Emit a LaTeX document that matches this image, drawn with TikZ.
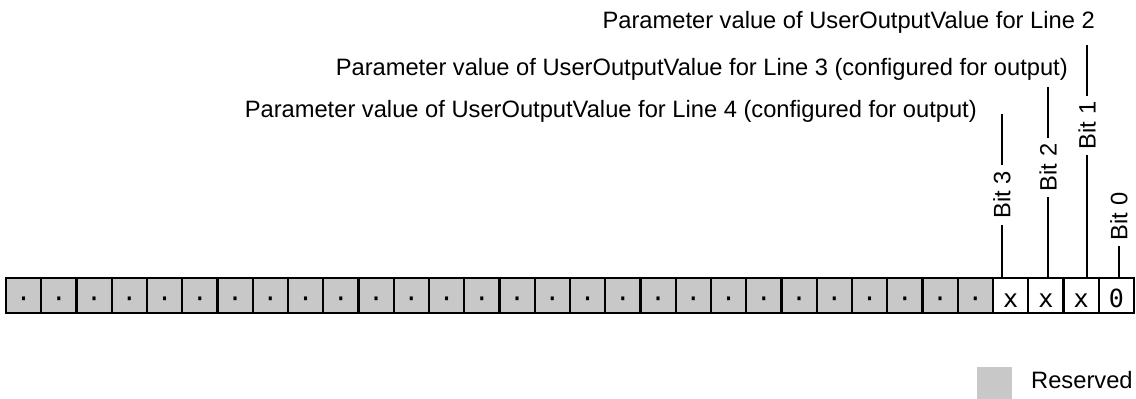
\documentclass[tikz,border=0pt]{standalone}
\usepackage{fontspec}
\setmainfont{Liberation Sans}
\newfontfamily\monof{DejaVu Sans Mono}
\definecolor{resgray}{RGB}{200,200,200}
\begin{document}
\begin{tikzpicture}[x=1pt,y=-1pt,
  cell/.style={draw=black, line width=2.4pt, minimum width=35.25pt, minimum height=35pt,
    inner sep=0pt, font=\monof\fontsize{25}{25}\selectfont, text height=25pt, text depth=2pt},
  rescell/.style={cell, fill=resgray},
  bitlabel/.style={rotate=90, font=\fontsize{23.7}{28}\selectfont, inner xsep=6pt, inner ysep=0pt},
  linetext/.style={font=\fontsize{23.7}{28}\selectfont, inner sep=0pt, anchor=base east},
  lead/.style={line width=2.8pt}]
\useasboundingbox (0,0) rectangle (1136,399);
% register cells
\foreach \i in {0,...,27}
  \node[rescell] (c\i) at ({6+35.25*(\i+0.5)},295.5) {·};
\node[cell] (c28) at ({6+35.25*28.5},295.5) {x};
\node[cell] (c29) at ({6+35.25*29.5},295.5) {x};
\node[cell] (c30) at ({6+35.25*30.5},295.5) {x};
\node[cell] (c31) at ({6+35.25*31.5},295.5) {0};
% bit labels
\node[bitlabel] (b3) at (1002,195) {Bit 3};
\node[bitlabel] (b2) at (1048,167.5) {Bit 2};
\node[bitlabel] (b1) at (1087,125.5) {Bit 1};
\node[bitlabel] (b0) at (1119,216.5) {Bit 0};
% upper ends of leader lines
\coordinate (t3) at (1002,114);
\coordinate (t2) at (1048,87);
\coordinate (t1) at (1087,45);
% leader lines
\draw[lead] (b3.west) -- (b3.west |- c28.north);
\draw[lead] (b2.west) -- (b2.west |- c29.north);
\draw[lead] (b1.west) -- (b1.west |- c30.north);
\draw[lead] (b0.west) -- (b0.west |- c31.north);
\draw[lead] (b3.east) -- (t3);
\draw[lead] (b2.east) -- (t2);
\draw[lead] (b1.east) -- (t1);
% descriptions
\node[linetext] (l2) at (1095,28) {Parameter value of UserOutputValue for Line 2};
\node[linetext] (l3) at (1068,75) {Parameter value of UserOutputValue for Line 3 (configured for output)};
\node[linetext] (l4) at (977,117) {Parameter value of UserOutputValue for Line 4 (configured for output)};
% legend
\node[fill=resgray, minimum width=35pt, minimum height=35pt, inner sep=0pt] (leg) at (994.5,384.5) {};
\node[font=\fontsize{23.7}{28}\selectfont, anchor=base west, inner sep=0pt] (legt) at (1031,388) {Reserved};
\end{tikzpicture}
\end{document}
